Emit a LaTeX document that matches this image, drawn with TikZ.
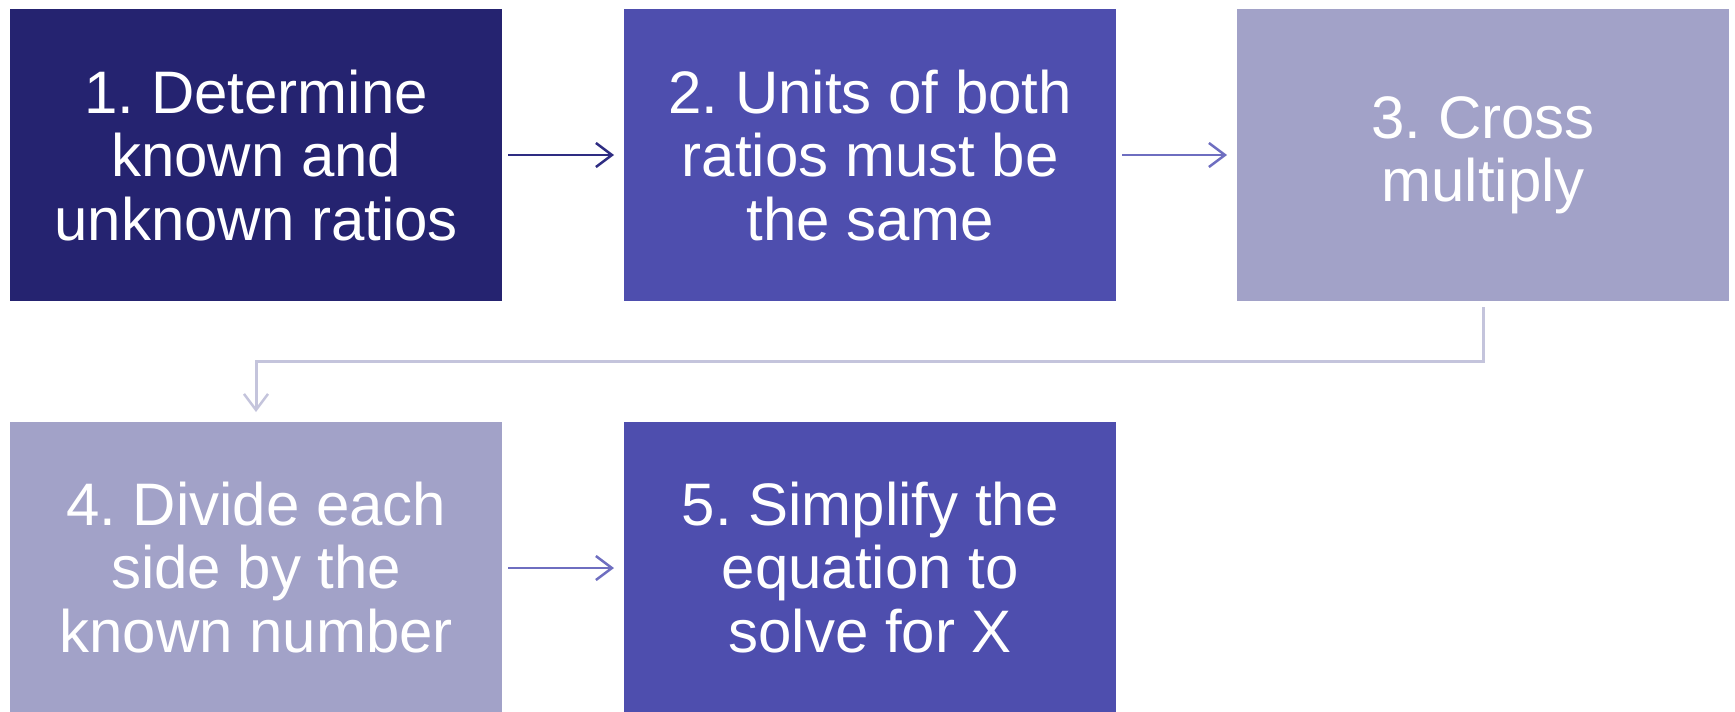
\documentclass[tikz,border=0pt]{standalone}
\usepackage{fontspec}
\setmainfont{Liberation Sans}
\frenchspacing
\usetikzlibrary{arrows.meta}
\definecolor{cA}{HTML}{252370}
\definecolor{cB}{HTML}{4E4EAE}
\definecolor{cC}{HTML}{A2A2C8}
\definecolor{aA}{HTML}{2E2C82}
\definecolor{aB}{HTML}{6E6EC0}
\definecolor{aC}{HTML}{C4C4DC}
\tikzset{
  stepbox/.style={draw=none, rectangle, anchor=north west, inner sep=0pt,
    minimum width=492pt, text=white, align=center,
    font=\fontsize{60}{63.5}\selectfont\frenchspacing},
  conn/.style={line width=2.5pt, -{Straight Barb[length=16pt,width=24pt,line width=2.5pt]},
    shorten <=6pt, shorten >=10pt}
}
\begin{document}
\begin{tikzpicture}[x=1pt,y=-1pt]
\useasboundingbox (0,0) rectangle (1735,712);
\node[stepbox, fill=cA, minimum height=292pt] (s1) at (10,9) {1. Determine\\known and\\unknown ratios};
\node[stepbox, fill=cB, minimum height=292pt] (s2) at (624,9) {2. Units of both\\ratios must be\\the same};
\node[stepbox, fill=cC, minimum height=292pt] (s3) at (1237,9) {3. Cross\\multiply};
\node[stepbox, fill=cC, minimum height=290pt] (s4) at (10,422) {4. Divide each\\side by the\\known number};
\node[stepbox, fill=cB, minimum height=290pt] (s5) at (624,422) {5. Simplify the\\equation to\\solve for X};
\coordinate (c3) at (1483,301);
\coordinate (c4) at (256,422);
\draw[conn, draw=aA] (s1.east |- 0,155) -- (s2.west |- 0,155);
\draw[conn, draw=aB] (s2.east |- 0,155) -- (s3.west |- 0,155);
\draw[conn, draw=aC, line width=3pt] (c3) -- (1483,361) -- (256,361) -- (c4);
\draw[conn, draw=aB] (s4.east |- 0,568) -- (s5.west |- 0,568);
\end{tikzpicture}
\end{document}
